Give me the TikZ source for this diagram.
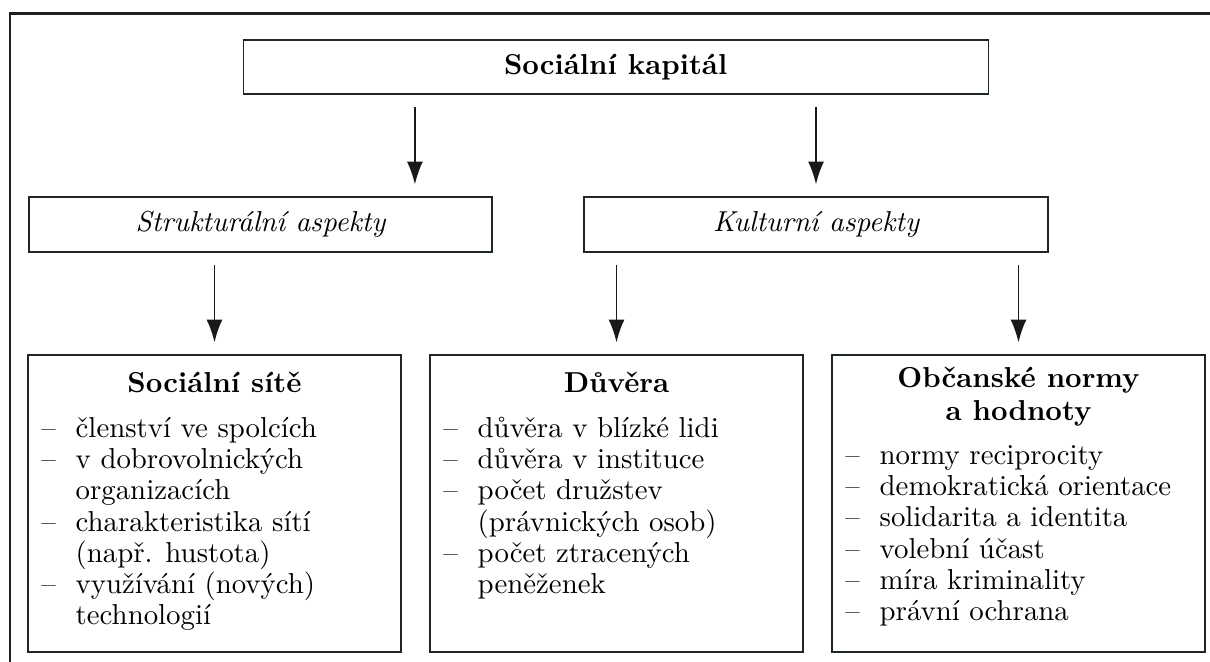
\documentclass[tikz,border=0pt]{standalone}
\usepackage{fontspec}
\setmainfont{lmroman10}[
    Extension=.otf,
    UprightFont=*-regular,
    BoldFont=*-bold,
    ItalicFont=*-italic,
    BoldItalicFont=*-bolditalic]
\usetikzlibrary{arrows.meta,positioning,calc}

\definecolor{ramec}{HTML}{1F2628}

\begin{document}
\begin{tikzpicture}[
    font=\fontsize{20.5pt}{22.2pt}\selectfont,
    >={Latex[length=5.7mm,width=4mm]},
    hlavni/.style={
        rectangle,
        draw=ramec,
        line width=0.8pt,
        minimum width=18.625cm,
        minimum height=1.35cm,
        inner sep=0pt,
        font=\fontsize{20.5pt}{22.2pt}\selectfont\bfseries
    },
    aspekt/.style={
        rectangle,
        draw=ramec,
        line width=0.8pt,
        minimum width=11.6cm,
        minimum height=1.375cm,
        inner sep=0pt,
        font=\fontsize{20.5pt}{22.2pt}\selectfont\itshape
    },
    oblast/.style={
        rectangle,
        draw=ramec,
        line width=0.8pt,
        minimum width=9.325cm,
        minimum height=7.425cm,
        inner sep=0pt
    },
    nadpis/.style={
        anchor=base,
        align=center,
        inner sep=0pt,
        font=\fontsize{20.5pt}{23.4pt}\selectfont\bfseries
    },
    seznam/.style={anchor=base west, inner sep=0pt},
    sipka/.style={->, line width=1.3pt, draw=black!90, shorten <=0.3cm, shorten >=0.3cm}
]

\useasboundingbox (0,0) rectangle (30.25,-16.55);

% outer frame (cut off on the right and at the bottom)
\coordinate (rohL) at (0.25,-16.55);
\coordinate (rohH) at (0.25,-0.34);
\coordinate (rohP) at (30.25,-0.34);
\draw[line width=2pt, black!88, line join=miter] (rohL) -- (rohH) -- (rohP);

\node[hlavni] (kap) at (15.39,-1.675) {Sociální kapitál};

\node[aspekt, minimum width=11.575cm] (str) at (6.5125,-5.6125) {Strukturální aspekty};
\node[aspekt] (kul) at (20.4,-5.6125) {Kulturní aspekty};

\node[oblast] (sit) at (5.3625,-12.5875) {};
\node[oblast] (duv) at (15.4125,-12.5875) {};
\node[oblast] (obc) at (25.4625,-12.5875) {};

\node[nadpis] (sitT) at ($(sit.north)+(0,-0.95)$) {Sociální sítě};
\node[nadpis] (duvT) at ($(duv.north)+(0,-0.95)$) {Důvěra};
\node[nadpis] (obcT) at ($(obc.north)+(0,-1.65)$) {Občanské normy\\a hodnoty};

\node[seznam] (sitL) at ($(sit.north west)+(0.34,-2.075)$) {%
    \begin{tabular}[t]{@{}p{0.86cm}@{}l@{}}
    -- & členství ve spolcích\\
    -- & v dobrovolnických\\
       & organizacích\\
    -- & charakteristika sítí\\
       & (např. hustota)\\
    -- & využívání (nových)\\
       & technologií
    \end{tabular}};

\node[seznam] (duvL) at ($(duv.north west)+(0.34,-2.075)$) {%
    \begin{tabular}[t]{@{}p{0.86cm}@{}l@{}}
    -- & důvěra v blízké lidi\\
    -- & důvěra v instituce\\
    -- & počet družstev\\
       & (právnických osob)\\
    -- & počet ztracených\\
       & peněženek
    \end{tabular}};

\node[seznam] (obcL) at ($(obc.north west)+(0.34,-2.75)$) {%
    \begin{tabular}[t]{@{}p{0.86cm}@{}l@{}}
    -- & normy reciprocity\\
    -- & demokratická orientace\\
    -- & solidarita a identita\\
    -- & volební účast\\
    -- & míra kriminality\\
    -- & právní ochrana
    \end{tabular}};

\coordinate (kapL) at ($(kap.south west)!0.231!(kap.south east)$);
\draw[sipka] (kapL) -- (kapL |- str.north);
\draw[sipka] (kap.south -| kul.north) -- (kul.north);

\draw[sipka] (str.south -| sit.north) -- (sit.north);
\draw[sipka] (kul.south -| duv.north) -- (duv.north);
\draw[sipka] (kul.south -| obc.north) -- (obc.north);

\end{tikzpicture}
\end{document}
